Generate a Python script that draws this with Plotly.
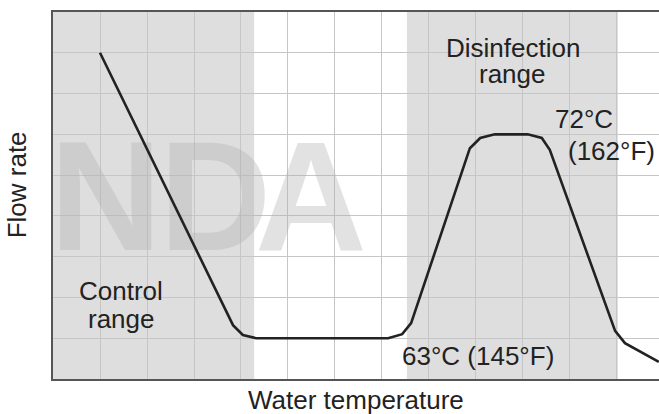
import plotly.graph_objects as go

# Flow-rate curve (x in grid cells of water temperature, y in grid cells of flow rate)
temp = [1.0, 3.83, 4.04, 4.32, 7.13, 7.43, 7.62, 8.87, 9.09, 9.40, 10.10, 10.40, 10.57, 11.96, 12.17, 12.89]
flow = [8.0, 1.32, 1.08, 1.0, 1.0, 1.10, 1.37, 5.66, 5.91, 6.0, 6.0, 5.91, 5.62, 1.18, 0.88, 0.42]

# Shaded ranges
control_range = [0.0, 4.28]
disinfection_range = [7.53, 12.02]

# Watermark letters
wm_letters = ["N", "D", "A"]
wm_x = [1.12, 3.45, 5.49]
wm_y = [4.12, 4.12, 4.12]

X_MAX = 12.894
Y_MAX = 9.0
TXT = "#222222"
FONT = "Liberation Sans, Arial, sans-serif"

fig = go.Figure()

for r in (control_range, disinfection_range):
    fig.add_shape(type="rect", xref="x", yref="y", x0=r[0], x1=r[1], y0=0, y1=Y_MAX,
                  fillcolor="#dedede", line_width=0, layer="below")

fig.add_trace(go.Scatter(
    x=wm_x, y=wm_y, text=wm_letters, mode="text",
    textfont=dict(family=FONT, size=155, color="rgba(175,175,175,0.36)", weight="bold"),
    textposition="middle center", hoverinfo="skip", showlegend=False, cliponaxis=False))

fig.add_trace(go.Scatter(
    x=temp, y=flow, mode="lines", line=dict(color="#222222", width=2.6),
    showlegend=False, hoverinfo="skip"))

labels = [
    ("Control", 1.447, 2.158),
    ("range", 1.447, 1.471),
    ("Disinfection", 9.787, 8.124),
    ("range", 9.777, 7.487),
    ("72°C", 11.30, 6.383),
    ("(162°F)", 11.89, 5.598),
    ("63°C (145°F)", 9.043, 0.571),
]
for t, x, y in labels:
    fig.add_annotation(text=t, x=x, y=y, xref="x", yref="y", showarrow=False,
                       xanchor="center", yanchor="middle",
                       font=dict(family=FONT, size=26, color=TXT))

fig.add_annotation(text="Water temperature", x=0.5, y=-0.057, xref="paper", yref="paper",
                   showarrow=False, xanchor="center", yanchor="middle",
                   font=dict(family=FONT, size=26, color=TXT))
fig.add_annotation(text="Flow rate", x=-0.058, y=0.53, xref="paper", yref="paper",
                   showarrow=False, textangle=-90, xanchor="center", yanchor="middle",
                   font=dict(family=FONT, size=26, color=TXT))

fig.update_layout(
    width=659, height=414,
    margin=dict(l=53, r=0, t=12, b=35),
    paper_bgcolor="white", plot_bgcolor="white",
    showlegend=False,
    xaxis=dict(range=[0, X_MAX], dtick=1, tick0=0, showticklabels=False, ticks="",
               showgrid=True, gridcolor="#c6c6c6", gridwidth=1, zeroline=False,
               showline=True, linecolor="#555555", linewidth=1.5, mirror=True, fixedrange=True),
    yaxis=dict(range=[0, Y_MAX], dtick=1, tick0=0, showticklabels=False, ticks="",
               showgrid=True, gridcolor="#c6c6c6", gridwidth=1, zeroline=False,
               showline=True, linecolor="#555555", linewidth=1.5, mirror=False, fixedrange=True),
)

fig.write_html("out.html", config={"displayModeBar": False},
               post_script="document.body.style.margin='0';")
